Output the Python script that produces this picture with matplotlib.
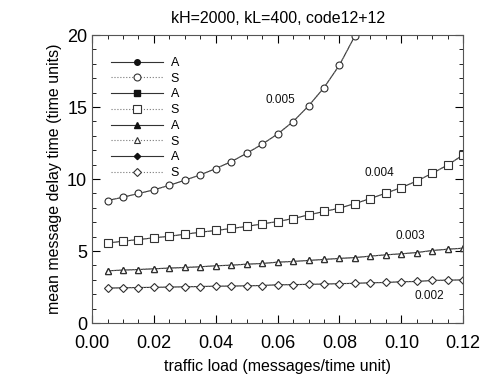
import numpy as np
import matplotlib
matplotlib.use("Agg")
import matplotlib.pyplot as plt
from matplotlib.ticker import MultipleLocator

plt.rcParams["font.family"] = ["Liberation Sans", "DejaVu Sans"]

load = [0.005, 0.010, 0.015, 0.020, 0.025, 0.030, 0.035, 0.040, 0.045, 0.050,
        0.055, 0.060, 0.065, 0.070, 0.075, 0.080, 0.085, 0.090, 0.095, 0.100,
        0.105, 0.110, 0.115, 0.120]

# delay per curve (A = analysis, S = simulation)
d005 = [8.51, 8.74, 9.00, 9.25, 9.57, 9.92, 10.29, 10.73, 11.21, 11.79,
        12.42, 13.13, 13.99, 15.08, 16.35, 17.92, 19.95]
d004 = [5.55, 5.69, 5.80, 5.92, 6.03, 6.17, 6.31, 6.43, 6.57, 6.71,
        6.89, 7.05, 7.26, 7.51, 7.75, 7.98, 8.30, 8.65, 9.02, 9.41,
        9.87, 10.40, 10.98, 11.68]
d003 = [3.63, 3.68, 3.72, 3.77, 3.82, 3.86, 3.91, 3.98, 4.02, 4.09,
        4.14, 4.23, 4.28, 4.35, 4.42, 4.49, 4.55, 4.65, 4.74, 4.81,
        4.90, 5.04, 5.13, 5.20]
d002 = [2.43, 2.45, 2.47, 2.48, 2.50, 2.52, 2.54, 2.56, 2.57, 2.59,
        2.61, 2.66, 2.67, 2.69, 2.71, 2.74, 2.76, 2.80, 2.82, 2.87,
        2.89, 2.96, 2.98, 3.00]

curves = [("0.005", d005, "o", 5), ("0.004", d004, "s", 5.5),
          ("0.003", d003, "^", 5), ("0.002", d002, "D", 4)]
labels = {"0.005": (0.061, 15.5), "0.004": (0.093, 10.45),
          "0.003": (0.103, 6.08), "0.002": (0.109, 1.85)}

fig = plt.figure(figsize=(4.82, 3.77), dpi=100)
ax = fig.add_axes([0.191, 0.143, 0.770, 0.764])

for name, vals, mk, ms in curves:
    x = load[:len(vals)]
    ax.plot(x, vals, "-", color="#333333", lw=0.8, marker=mk, ms=ms * 0.8,
            mfc="#111111", mec="#111111", label="A")
    ax.plot(x, vals, ":", color="#777777", lw=0.8, marker=mk, ms=ms,
            mfc="white", mec="#333333", mew=0.8, label="S")
    lx, ly = labels[name]
    ax.text(lx, ly, name, fontsize=8.5, ha="center", va="center", color="#111111")

ax.set_xlim(0, 0.12)
ax.set_ylim(0, 20)
ax.xaxis.set_major_locator(MultipleLocator(0.02))
ax.xaxis.set_minor_locator(MultipleLocator(0.005))
ax.yaxis.set_major_locator(MultipleLocator(5))
ax.yaxis.set_minor_locator(MultipleLocator(1))
ax.set_xticklabels([f"{v:.2f}" for v in ax.get_xticks()])
ax.tick_params(which="both", direction="in", top=True, right=True, labelsize=13)
ax.tick_params(axis="x", pad=8.5)
ax.tick_params(which="major", length=6)
ax.tick_params(which="minor", length=3)
for s in ax.spines.values():
    s.set_color("#555555")
    s.set_linewidth(0.8)

ax.set_xlabel("traffic load (messages/time unit)", fontsize=11.5, labelpad=5)
ax.set_ylabel("mean message delay time (time units)", fontsize=11.5, labelpad=4)
ax.set_title("kH=2000, kL=400, code12+12", fontsize=11.5, pad=9)

ax.legend(loc="upper left", bbox_to_anchor=(0.03, 0.95), frameon=False,
          fontsize=9, handlelength=4.2, labelspacing=0.3, borderaxespad=0.2,
          handletextpad=0.6)

fig.savefig("out.png", dpi=100)
